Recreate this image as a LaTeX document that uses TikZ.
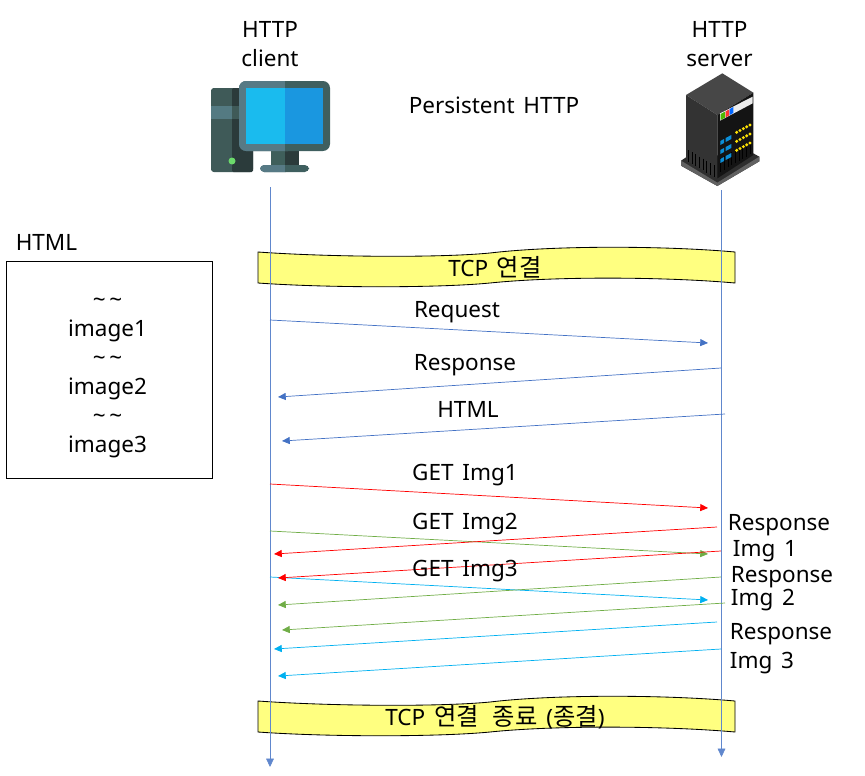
\documentclass[tikz,border=0pt]{standalone}
\usepackage{fontspec}
\setmainfont[WordSpace=1.5]{Noto Sans}
\newfontfamily\cjk[Scale=1.08,WordSpace=2.6]{Noto Sans CJK KR}
\usetikzlibrary{arrows.meta}
\definecolor{lineblue}{HTML}{4472C4}
\definecolor{linered}{HTML}{FF0000}
\definecolor{linegreen}{HTML}{70AD47}
\definecolor{linecyan}{HTML}{00B0F0}
\definecolor{bandyellow}{HTML}{FFFF80}
\tikzset{
    label/.style={font=\fontsize{16}{20.6}\selectfont, inner sep=0pt, align=center},
    msg/.style={line width=0.5pt, -{Triangle[length=5.5pt,width=5pt]}},
    lifeline/.style={lineblue!85, line width=0.5pt, -{Triangle[length=6pt,width=5.5pt]}},
    tcp band/.pic={
        \draw[fill=bandyellow, line width=0.6pt] (0,0) .. controls (70,5) and (180,6) .. (232,1)
            .. controls (300,-7) and (410,-6) .. (477,0) -- (477,31)
            .. controls (410,25) and (300,24) .. (232,31) .. controls (180,36) and (70,36) .. (0,31) -- cycle;
    },
}
\begin{document}
\begin{tikzpicture}[x=0.025cm, y=-0.025cm]
\useasboundingbox (0,0) rectangle (865,775);

% client
\fill[rounded corners=2pt, fill={rgb,255:red,63;green,90;blue,88}] (211,88) rectangle (253,172);
\fill[rounded corners=1pt, fill={rgb,255:red,43;green,59;blue,59}] (232,88) rectangle (253,172);
\fill[fill={rgb,255:red,84;green,122;blue,130}] (211,106) rectangle (232,119);
\fill[fill={rgb,255:red,63;green,90;blue,88}] (232,106) rectangle (253,119);
\fill[fill={rgb,255:red,107;green,217;blue,107}] (232,161) circle (3.5);
\fill[fill={rgb,255:red,63;green,95;blue,91}] (271,151) rectangle (285,166);
\fill[fill={rgb,255:red,43;green,59;blue,59}] (285,151) rectangle (299,166);
\fill[rounded corners=3pt, fill={rgb,255:red,63;green,95;blue,95}] (260,165) rectangle (309,172);
\fill[rounded corners=3pt, fill={rgb,255:red,87;green,122;blue,133}] (260,165) rectangle (290,172);
\fill[fill={rgb,255:red,63;green,95;blue,95}] (285,165) rectangle (295,172);
\fill[rounded corners=5pt, fill={rgb,255:red,63;green,95;blue,95}] (239,81) rectangle (330,151);
\fill[rounded corners=5pt, fill={rgb,255:red,87;green,122;blue,133}] (239,81) rectangle (295,151);
\fill[fill={rgb,255:red,63;green,95;blue,95}] (285,81) rectangle (300,151);
\fill[fill={rgb,255:red,26;green,187;blue,238}] (246,88) rectangle (285,144);
\fill[fill={rgb,255:red,26;green,151;blue,224}] (285,88) rectangle (323,144);

% server
\begin{scope}[shift={(670,70)}, x=0.025cm/3, y=-0.025cm/3]
\fill[black!82] (33,272) -- (48,262) -- (250,250) -- (268,260) -- (268,274) -- (142,348) -- (33,287) -- cycle;
\fill[black!62] (33,272) -- (142,338) -- (268,260) -- (268,274) -- (142,348) -- (33,287) -- cycle;
\fill[black!72] (157,10) -- (250,68) -- (142,135) -- (48,75) -- cycle;
\fill[black!80] (48,75) -- (142,135) -- (142,325) -- (48,270) -- cycle;
\fill[black!92] (142,135) -- (250,68) -- (250,255) -- (142,325) -- cycle;
\foreach \i in {0,...,7}
    \draw[black, line width=0.7pt] (55+\i*11,240+\i*6.5) -- (55+\i*11,275+\i*6.5);
\foreach \i in {0,...,8}
    \draw[black, line width=0.7pt] (152+\i*11,265-\i*6.5) -- (152+\i*11,305-\i*6.5);
\fill[white!92!black] (150,130) -- (248,80) -- (248,100) -- (150,152) -- cycle;
\fill[green!60!black!70!yellow] (152,132) -- (165,125) -- (165,143) -- (152,150) -- cycle;
\fill[red!80] (167,124) -- (178,118) -- (178,136) -- (167,142) -- cycle;
\fill[blue!60!cyan] (179,117) -- (190,111) -- (190,129) -- (179,135) -- cycle;
\foreach \r in {0,1,2} {
    \fill[cyan!75!blue] (151,213+\r*27) -- (162,207+\r*27) -- (162,219+\r*27) -- (151,225+\r*27) -- cycle;
    \fill[cyan!75!blue] (167,204+\r*27) -- (184,195+\r*27) -- (184,207+\r*27) -- (167,216+\r*27) -- cycle;
    \foreach \c in {0,...,4}
        \fill[yellow!85!orange] (200+\c*10,187-\c*5.5+\r*27) circle (5);
}
\end{scope}

% yellow bands
\pic at (258,252) {tcp band};
\pic at (258,701) {tcp band};
\node[label] (open) at (495,267) {TCP {\cjk 연결}};
\node[label] (close) at (495,717) {TCP {\cjk 연결 종료} ({\cjk 종결})};

% lifelines
\node[label] (client) at (270,44) {HTTP\\client};
\node[label] (server) at (719.5,44) {HTTP\\server};
\coordinate (clienttop) at (270,187);
\coordinate (clientend) at (270,767);
\coordinate (servertop) at (721.5,190);
\coordinate (serverend) at (721.5,757);
\draw[lifeline] (clienttop) -- (clientend);
\draw[lifeline] (servertop) -- (serverend);

\node[label] (title) at (494,105) {Persistent HTTP};
\node[label] (htmlname) at (46.5,242) {HTML};
\node[draw, line width=0.5pt, minimum width=206*0.025cm, minimum height=217*0.025cm, inner sep=0pt] (htmlbox) at (109,369.5) {};
\node[label] (htmltext) at (107.5,378)
    {\char"7E\,\char"7E\\image1\\\char"7E\,\char"7E\\image2\\\char"7E\,\char"7E\\image3};

% messages
\foreach \name/\col/\xa/\ya/\xb/\yb in {
    req/lineblue/270/320/708/343,
    resp/lineblue/721/368/278/397,
    html/lineblue/725/414/282/441,
    geta/linered/270/484/708/508,
    getb/linegreen/270/531/708/554,
    getc/linecyan/270/577/708/600,
    respaa/linered/717/527/274/554,
    respab/linered/721/551/278/578,
    respba/linegreen/721/577/278/605,
    respbb/linegreen/725/603/282/630,
    respca/linecyan/717/622/274/649,
    respcb/linecyan/721/649/278/676}
{
    \coordinate (\name from) at (\xa,\ya);
    \coordinate (\name to) at (\xb,\yb);
    \draw[msg, \col] (\name from) -- (\name to);
}

\node[label] (reqlabel) at (457,312) {Request};
\node[label] (resplabel) at (465,365) {Response};
\node[label] (htmllabel) at (468,409) {HTML};
\node[label] (getalabel) at (465,475) {GET Img1};
\node[label] (getblabel) at (465,524) {GET Img2};
\node[label] (getclabel) at (465,571) {GET Img3};
\node[label] (respa) at (779,525) {Response};
\node[label] (imga) at (765,551) {Img 1};
\node[label] (respb) at (782,577) {Response};
\node[label] (imgb) at (763,600) {Img 2};
\node[label] (respc) at (781,634) {Response};
\node[label] (imgc) at (762,663) {Img 3};
\end{tikzpicture}
\end{document}
